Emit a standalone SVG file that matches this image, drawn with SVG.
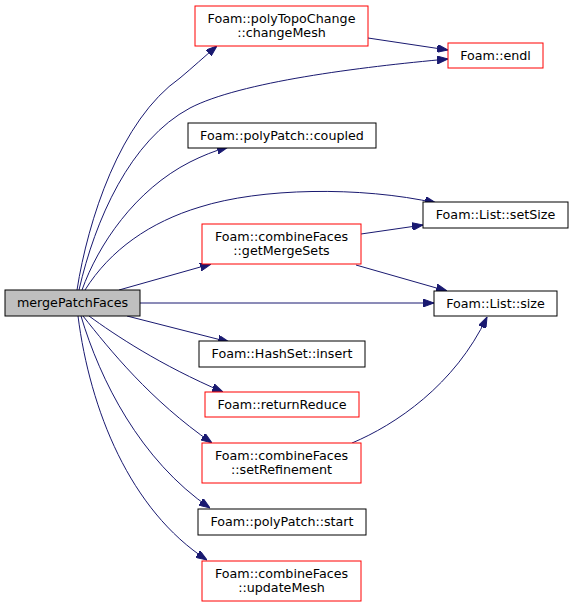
<svg xmlns="http://www.w3.org/2000/svg" width="573" height="607" viewBox="0 0 573 607">
<style>
.n rect{fill:#fff;stroke:#000;stroke-width:1}
.n.r rect{stroke:#ff0000}
.n.g rect{fill:#bfbfbf}
text{font-family:"DejaVu Sans",sans-serif;font-size:12.7px;fill:#000;text-anchor:middle}
.e path{fill:none;stroke:#191970;stroke-width:1;marker-end:url(#a)}
</style>
<defs>
<marker id="a" markerUnits="userSpaceOnUse" markerWidth="11" markerHeight="8" refX="11" refY="4" orient="auto" viewBox="0 0 11 8">
<path d="M0,0 L11,4 L0,8 z" fill="#191970" stroke="#191970"/>
</marker>
</defs>
<rect width="573" height="607" fill="#fff"/>
<g class="e" id="edges">
<path d="M77,290 C88,220 120,120 180,78 C192,68 205,56 217,46"/>
<path d="M79,290 C95,220 130,140 190,108 C240,82 360,67 448,59"/>
<path d="M368,38 L448,50"/>
<path d="M82,290 C98,245 135,190 190,162 C202,156 214,151 228,147"/>
<path d="M85,290 C110,250 150,222 200,207 C260,188 360,186 436,203"/>
<path d="M119,290 L211,264"/>
<path d="M361,234 L423,225"/>
<path d="M356,265 L447,291"/>
<path d="M140,303 L434,303"/>
<path d="M127,316 L229,342"/>
<path d="M89,316 C115,335 160,365 223,392"/>
<path d="M83,316 C110,350 150,400 212,443"/>
<path d="M81,316 C100,380 140,460 210,508"/>
<path d="M78,316 C90,410 130,510 207,560"/>
<path d="M352,443 C395,425 455,385 487,317"/>
</g>
<g class="n g" id="mergePatchFaces"><rect x="5" y="290" width="135" height="26"/><text x="72.5" y="307">mergePatchFaces</text></g>
<g class="n r" id="changeMesh"><rect x="195" y="6" width="173" height="40"/><text x="281.5" y="22.5">Foam::polyTopoChange</text><text x="281.5" y="37">::changeMesh</text></g>
<g class="n r" id="endl"><rect x="448" y="43" width="95" height="25"/><text x="495.5" y="59.5">Foam::endl</text></g>
<g class="n" id="coupled"><rect x="188" y="123" width="188" height="25"/><text x="282" y="139.5">Foam::polyPatch::coupled</text></g>
<g class="n" id="setSize"><rect x="423" y="202" width="145" height="26"/><text x="495.5" y="219">Foam::List::setSize</text></g>
<g class="n r" id="getMergeSets"><rect x="202" y="224" width="159" height="40"/><text x="281.5" y="240.5">Foam::combineFaces</text><text x="281.5" y="255">::getMergeSets</text></g>
<g class="n" id="size"><rect x="434" y="291" width="123" height="25"/><text x="495.5" y="307.5">Foam::List::size</text></g>
<g class="n" id="insert"><rect x="199" y="341" width="166" height="26"/><text x="282" y="358">Foam::HashSet::insert</text></g>
<g class="n r" id="returnReduce"><rect x="205" y="392" width="154" height="25"/><text x="282" y="408.5">Foam::returnReduce</text></g>
<g class="n r" id="setRefinement"><rect x="202" y="443" width="159" height="40"/><text x="281.5" y="459.5">Foam::combineFaces</text><text x="281.5" y="474">::setRefinement</text></g>
<g class="n" id="start"><rect x="198" y="509" width="168" height="26"/><text x="282" y="526">Foam::polyPatch::start</text></g>
<g class="n r" id="updateMesh"><rect x="202" y="561" width="159" height="40"/><text x="281.5" y="577.5">Foam::combineFaces</text><text x="281.5" y="592">::updateMesh</text></g>
</svg>
